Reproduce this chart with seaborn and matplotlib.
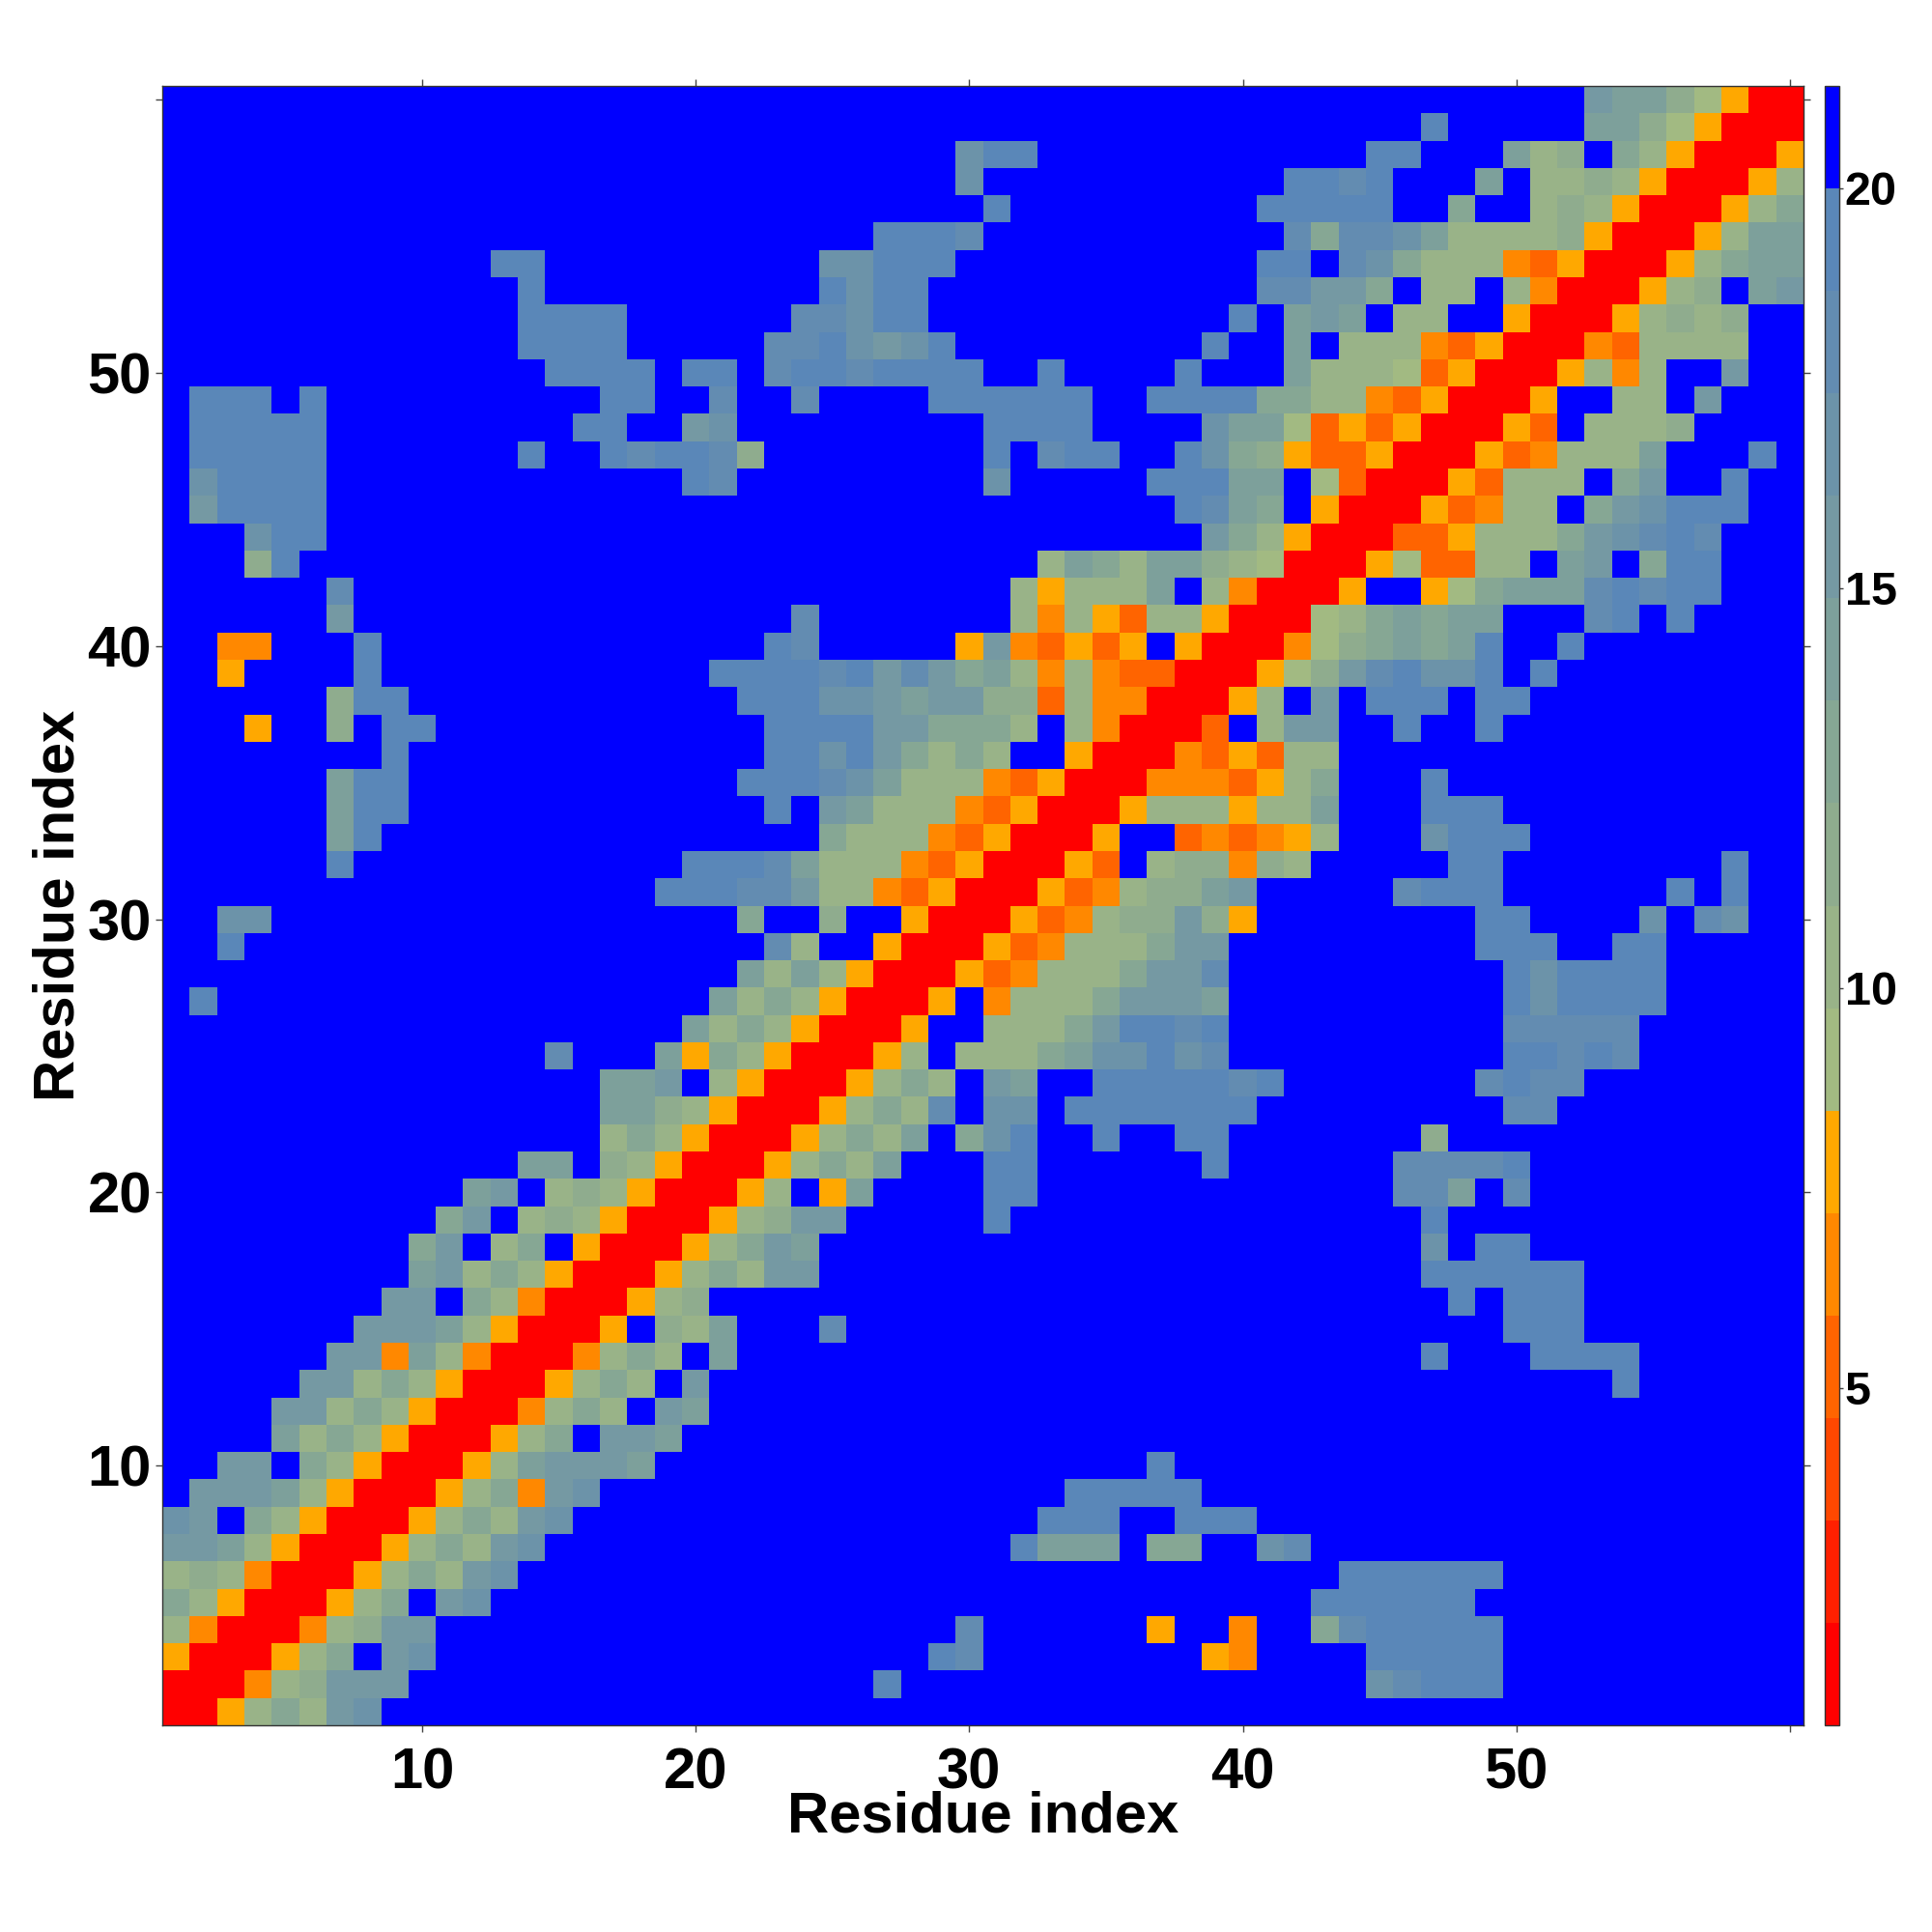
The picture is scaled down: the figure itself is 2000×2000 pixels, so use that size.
import numpy as np
import pandas as pd
import seaborn as sns
from matplotlib import pyplot as plt
from matplotlib.colors import ListedColormap

# one string per residue, from residue 60 (top) down to residue 1, ten columns per group
# digits/letters are colour bins of the distance, "." is above the last contact bin
RES_60_51 = [
    ".......... .......... .......... .......... .......... ..cbb97611",
    ".......... .......... .......... .......... ......f... ..bb976111",
    ".......... .......... .........d ff........ ....ff...b 89.a861116",
    ".......... .......... .........d .......... .ffef...b. 8898611168",
    ".......... .......... .......... f......... fffff..a.. 898611168a",
    ".......... .......... ......fffe .......... .eaeedb888 89611168bb",
    ".......... ..ff...... ....ddfff. .......... ff.eda8885 4611168abb",
    ".......... ...f...... ....fdff.. .......... eecca.88.8 5111689.bc",
    ".......... ...ffff... ...eedff.. .........f .bcb.88..6 11168989..",
    ".......... ...ffff... ..eefdcdf. ........f. .b.8885461 11548888..",
]
RES_50_41 = [
    ".......... ....ffff.f f.effeffff ..f....f.. .b88874611 16858..c..",
    ".fff.f.... ......ff.. e..e....ff ffff..ffff aa88546111 6..88.c...",
    ".fffff.... .....ff..c d......... ffff....db b746461116 4.8889....",
    ".fffff.... ...f..feff e9........ f.eff..fda 9644611164 5888b...f.",
    ".dffff.... .........f e......... d.....fffb b.74111648 88.ac..f..",
    ".cffff.... .......... .......... .......feb a.61116458 8.acdfff..",
    "...dff.... .......... .......... ........ca 8611144688 8acdefe...",
    "...9f..... .......... .......... ..8ba8bb98 7111674488 .bc.aff...",
    "......e... .......... .......... .86888b.85 1116..67ab bbefeff...",
    "......c... .......... ...e...... .858648861 1178ababb. ..ef.f....",
]
RES_40_31 = [
    "..55...f.. .......... ..fe.....6 c54646.611 1579ababf. .f........",
    "..6....f.. .......... ffffefceca b858544111 679cefddf. f.........",
    "......9ff. .......... .fffddcbcc 9948551116 8.c.fff.ff ..........",
    "...6..9.ff .......... ..ffffccaa a8.851114. 8cc..f..f. ..........",
    "........f. .......... ..ffdfca8a 8..6111546 488....... ..........",
    "......bff. .......... .fffedb888 5461115554 68a...f... ..........",
    "......bff. .......... ..f.cb8885 4611168886 88b...fff. ..........",
    "......bf.. .......... ....a88854 61116..454 568...dfff ..........",
    "......f... .........f ffeb888546 11164.8995 98.....ff. .......f..",
    ".......... ........ff feec885461 11645899bc .....efff. .....f.f..",
]
RES_30_21 = [
    "..dd...... .......... .a..9..611 1645899c96 ........ff ....d.ed..",
    "..f....... .......... ..e8..6111 645888acc. ........ff f..ff.....",
    ".......... .......... .b8b861116 45888acce. .........f dffff.....",
    ".f........ .......... b8a861116. 5888acccb. .........f dffff.....",
    ".......... .........b 8a861116.. 888acffef. .........e eeee......",
    ".......... ....e...b6 a8611168.8 88abddfde. .........f fefe......",
    ".......... ......bbc. 8611168a8. cb..fffffe f.......ef ee........",
    ".......... ......bb98 611168a8e. dd.fffffff .........e e.........",
    ".......... ......8a86 11168a8b.a df..f..ff. ......9... ..........",
    ".......... ...bb.9861 1168a8b... ff......f. .....eeeef ..........",
]
RES_20_11 = [
    ".......... .bc.898611 168.6b.... ff........ .....eeb.e ..........",
    ".......... ac.8986111 689cc..... f......... ......f... ..........",
    ".........a c.8a.61116 8acb...... .......... ......d.ff ..........",
    ".........b c8a8611168 a8cc...... .......... ......ffff ff........",
    "........cc .a85111689 .......... .......... .......f.f ff........",
    ".......ccc b861116.98 b...e..... .......... .........f ff........",
    "......cc5b 8511158a8. b......... .......... ......f... ffff......",
    ".....cc8a8 611168a8.c .......... .......... .......... ...f......",
    "....cc8a86 11158a8.cb .......... .......... .......... ..........",
    "....b8a861 1168a.ccb. .......... .......... .......... ..........",
]
RES_10_1 = [
    "..cc.a8611 168bcccb.. .......... ......f... .......... ..........",
    ".cccb86111 68a5cd.... .......... ...fffff.. .......... ..........",
    "dc.a861116 8a8cd..... .......... ..fff..fff .......... ..........",
    "ccb8611168 a8cd...... .......... .fbbb.aa.. de........ ..........",
    "898511168a 8cd....... .......... .......... ...ffffff. ..........",
    "a8611168a. cd........ .......... .......... ..ffffff.. ..........",
    "85111589cc .......... .........e ......6..5 ..aefffff. ..........",
    "611168a.cd .......... ........fe ........65 ....fffff. ..........",
    "111589ccc. .......... ......f... .......... ....defff. ..........",
    "1168a8cd.. .......... .......... .......... .......... ..........",
]

BIN_CODES = "123456789abcdef."
BIN_COLORS = ["#ff0000", "#ff2000", "#ff4800", "#ff6400", "#ff8800", "#ffa800",
              "#a2ba82", "#99b388", "#8fac8e", "#86a794", "#7da09b", "#7599a3",
              "#6c93a9", "#638cb1", "#5a87b8", "#0000ff"]
VMIN = 0.78
VMAX = 21.28
RESIDUE_TICKS = [10, 20, 30, 40, 50, 60]
TICK_LABELS = ["10", "20", "30", "40", "50", ""]
CBAR_TICKS = [5, 10, 15, 20]
AXIS_LABEL = "Residue index"

# middle of each colour bin
bin_width = (VMAX - VMIN) / len(BIN_CODES)
bin_values = {c: VMIN + (i + 0.5) * bin_width for i, c in enumerate(BIN_CODES)}

rows = RES_60_51 + RES_50_41 + RES_40_31 + RES_30_21 + RES_20_11 + RES_10_1
rows = [r.replace(" ", "") for r in rows]
assert all(len(r) == 60 for r in rows)
residues = np.arange(1, 61)
df = pd.DataFrame([[bin_values[c] for c in r] for r in rows],
                  index=residues[::-1], columns=residues)

sns.set_theme(style="white")
plt.rcParams["font.family"] = ["Liberation Sans", "DejaVu Sans"]
plt.rcParams["font.weight"] = "bold"
plt.rcParams["text.color"] = "black"
plt.rcParams["axes.labelcolor"] = "black"
plt.rcParams["xtick.labelcolor"] = "black"
plt.rcParams["ytick.labelcolor"] = "black"

fig = plt.figure(figsize=(20, 20), dpi=100)
ax = fig.add_axes([168 / 2000, 1 - 1786 / 2000, 1699 / 2000, 1697 / 2000])
cax = fig.add_axes([1889 / 2000, 1 - 1786 / 2000, 15 / 2000, 1697 / 2000])

sns.heatmap(df, ax=ax, cbar_ax=cax, cmap=ListedColormap(BIN_COLORS), vmin=VMIN, vmax=VMAX,
            square=False, xticklabels=False, yticklabels=False,
            cbar_kws={"ticks": CBAR_TICKS})

# heatmap cells sit at i + 0.5, so residue n is at n - 0.5 from the left / 60.5 - n from the top
ax.set_xticks([t - 0.5 for t in RESIDUE_TICKS])
ax.set_xticklabels(TICK_LABELS, fontsize=43, fontweight="bold", color="black")
ax.set_yticks([60.5 - t for t in RESIDUE_TICKS])
ax.set_yticklabels(TICK_LABELS, fontsize=43, fontweight="bold", rotation=0, color="black")
ax.tick_params(axis="both", which="major", length=5, width=1, color="#444444", direction="out",
               top=True, right=True, bottom=True, left=True)
ax.tick_params(axis="x", pad=11)
ax.tick_params(axis="y", pad=3)
ax.set_xlabel(AXIS_LABEL, fontsize=43, fontweight="bold", labelpad=-7, color="black")
ax.set_ylabel(AXIS_LABEL, fontsize=43, fontweight="bold", labelpad=1, color="black")
for spine in ax.spines.values():
    spine.set_visible(True)
    spine.set_linewidth(1)
    spine.set_color("#333333")

cax.tick_params(axis="y", length=3, width=1, color="#444444", labelsize=35, pad=1, right=True)
for label in cax.get_yticklabels():
    label.set_fontweight("bold")
    label.set_color("black")
cbar = ax.collections[0].colorbar
cbar.outline.set_visible(True)
cbar.outline.set_linewidth(1)
cbar.outline.set_edgecolor("#333333")

fig.savefig("out.png", dpi=100)
